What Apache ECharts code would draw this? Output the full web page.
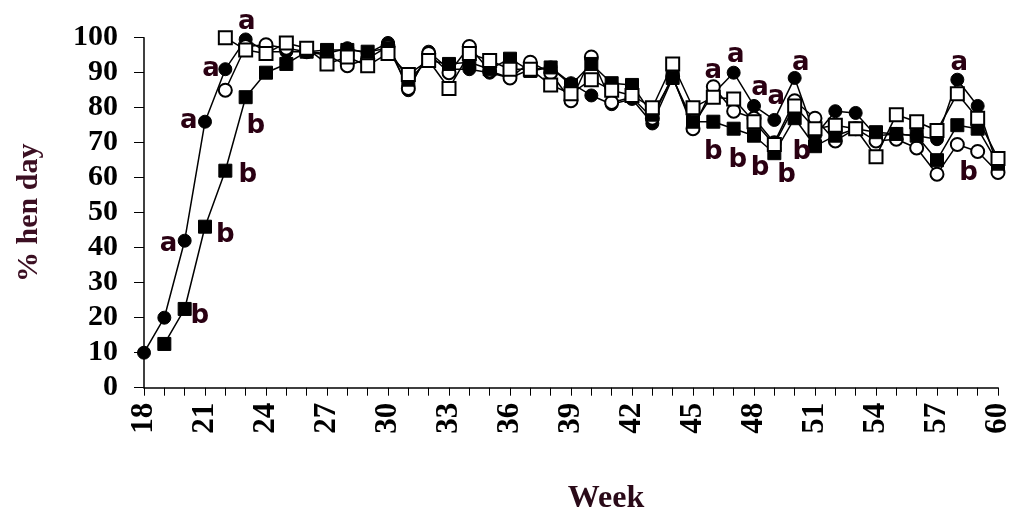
<!DOCTYPE html>
<html><head><meta charset="utf-8">
<script src="https://cdn.jsdelivr.net/npm/echarts@6/dist/echarts.min.js"></script>
<style>html,body{margin:0;padding:0;background:#fff}#c{width:1014px;height:511px}</style>
</head><body><div id="c"></div>
<script>
const weeks = [18,19,20,21,22,23,24,25,26,27,28,29,30,31,32,33,34,35,36,37,38,39,40,41,42,43,44,45,46,47,48,49,50,51,52,53,54,55,56,57,58,59,60];
// filled circles
const seriesA = [10,20,42,76,91,99.5,96,96,96,95.5,97,95.5,98.5,85,96,91,91,90,88.5,91,91.5,87,83.5,81,82.5,75.5,88.5,75,84,90,80.5,76.5,88.5,72,79,78.5,72,72.5,72,71,88,80.5,63];
// filled squares
const seriesB = [null,12.5,22.5,46,62,83,90,92.5,96,96.5,96.5,96,97,88,93.5,92.5,93,91,94,90.5,91.5,86.5,92.5,87,86.5,78,88.5,76,76,74,72,67,77,69,72,74,73,72.5,72,65,75,74,64];
// open circles
const seriesC = [null,null,null,null,85,97.5,98,97,96,95,92,94,97.5,85.5,95.5,90,97.5,90.5,88.5,93,90,82,94.5,81.5,83,77,89,74,86,79,77,70,82,77,70.5,74,70.5,71,68.5,61,69.5,67.5,61.5];
// open squares
const seriesD = [null,null,null,null,100,96.5,95.5,98.5,97,92.5,94.5,92,95.5,89.5,93.5,85.5,95.5,93.5,91,91,86.5,84,88,85,83.5,80,92.5,80,83,82.5,76,69.5,80.5,74,75,74,66,78,76,73.5,84,77,65.5];
// letter annotations: [week, value, letter]
const letters = [
  [19.2,41,'a'],[20.2,76,'a'],[21.3,91,'a'],[23.05,104.5,'a'],[46,90.5,'a'],[47.1,95,'a'],[48.3,85.5,'a'],[49.1,83,'a'],[50.3,92.7,'a'],[58.1,92.7,'a'],
  [20.75,20.3,'b'],[22,43.6,'b'],[23.1,60.8,'b'],[23.5,74.6,'b'],[46,67.4,'b'],[47.2,65,'b'],[48.3,62.7,'b'],[49.6,60.8,'b'],[50.35,67.4,'b'],[58.55,61.3,'b']
];
const xTicks = {min:18, max:60, step:3};
const yTicks = {min:0, max:100, step:10};

function pairs(vals){ const out=[]; weeks.forEach((w,i)=>{ if(vals[i]!=null) out.push([w,vals[i]]); }); return out; }

const chart = echarts.init(document.getElementById('c'), null, {renderer:'canvas'});
const lineBase = {type:'line', lineStyle:{color:'#000', width:1.5}, z:2, animation:false};
chart.setOption({
  animation:false,
  grid:{left:144, right:16, top:37.7, bottom:123.3, containLabel:false, outerBoundsMode:'none'},
  xAxis:{type:'value', min:xTicks.min, max:xTicks.max, interval:xTicks.step,
    name:'Week', nameLocation:'middle', nameGap:95,
    nameTextStyle:{fontFamily:'Liberation Serif', fontWeight:'bold', fontSize:32, color:'#2a0a18', padding:[0,0,0,70]},
    axisLine:{show:true, onZero:false, lineStyle:{color:'#000', width:1.5}},
    axisTick:{show:true, inside:false, length:8, lineStyle:{color:'#000', width:1}},
    minorTick:{show:true, splitNumber:3, length:8, lineStyle:{color:'#000', width:1}},
    splitLine:{show:false}, minorSplitLine:{show:false},
    axisLabel:{rotate:90, margin:15, fontFamily:'Liberation Serif', fontWeight:'bold', fontSize:31, color:'#000'}
  },
  yAxis:{type:'value', min:yTicks.min, max:yTicks.max, interval:yTicks.step,
    name:'% hen day', nameLocation:'middle', nameGap:100, nameRotate:90,
    nameTextStyle:{fontFamily:'Liberation Serif', fontWeight:'bold', fontSize:30, color:'#3b0f22'},
    axisLine:{show:true, lineStyle:{color:'#000', width:1.5}},
    axisTick:{show:true, inside:false, length:10, lineStyle:{color:'#000', width:1}},
    splitLine:{show:false},
    axisLabel:{margin:26, fontFamily:'Liberation Serif', fontWeight:'bold', fontSize:30, color:'#000'}
  },
  series:[
    Object.assign({}, lineBase, {name:'A', data:pairs(seriesA), symbol:'circle', symbolSize:13, itemStyle:{color:'#000', borderColor:'#000', borderWidth:1}}),
    Object.assign({}, lineBase, {name:'C', data:pairs(seriesC), symbol:'circle', symbolSize:13, itemStyle:{color:'#fff', borderColor:'#000', borderWidth:2}}),
    Object.assign({}, lineBase, {name:'B', data:pairs(seriesB), symbol:'rect', symbolSize:13, itemStyle:{color:'#000', borderColor:'#000', borderWidth:1}}),
    Object.assign({}, lineBase, {name:'D', data:pairs(seriesD), symbol:'rect', symbolSize:13, itemStyle:{color:'#fff', borderColor:'#000', borderWidth:2}}),
    {type:'scatter', data:letters, symbolSize:0, clip:false, z:5, silent:true, itemStyle:{color:'#2a0012', opacity:1},
      label:{show:true, position:'inside', formatter:p=>p.data[2], fontFamily:'DejaVu Sans', fontWeight:'bold', fontSize:26, color:'#2a0012', opacity:1, textBorderWidth:0, textBorderColor:'transparent'}}
  ]
});
</script></body></html>
